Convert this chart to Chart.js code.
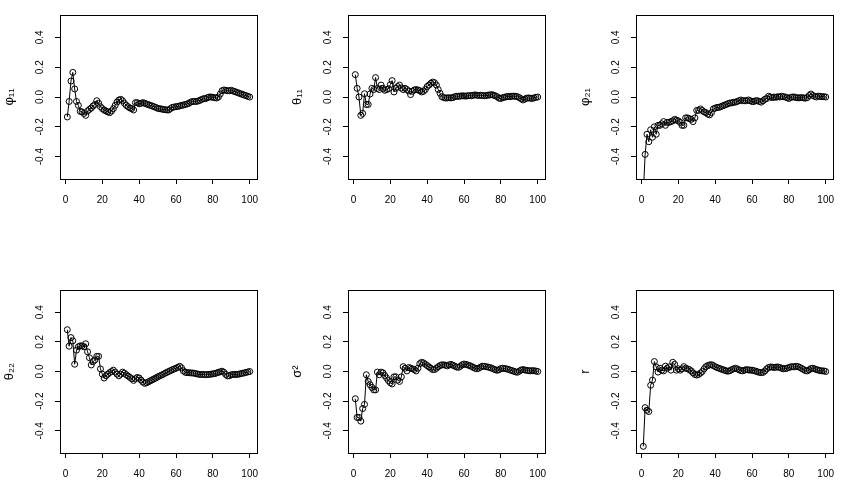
<!DOCTYPE html>
<html>
<head>
<meta charset="utf-8">
<script src="https://cdn.jsdelivr.net/npm/chart.js@4"></script>
<style>
  html, body { margin: 0; padding: 0; background: #fff; }
  #wrap { position: relative; width: 842px; height: 486px; overflow: hidden; }
  .panel { position: absolute; }
</style>
</head>
<body>
<div id="wrap"></div>
<script>
// tick labels
const xTicks = [0, 20, 40, 60, 80, 100];
const yTicks = [-0.4, -0.2, 0, 0.2, 0.4];

// series values, one per iteration 1..100
const phi11 = [
  -0.134, -0.03, 0.107, 0.165, 0.054, -0.03, -0.056, -0.096, -0.10, -0.11,
  -0.123, -0.094, -0.083, -0.074, -0.06, -0.05, -0.025, -0.042, -0.065, -0.078,
  -0.087, -0.094, -0.10, -0.105, -0.094, -0.078, -0.056, -0.034, -0.02, -0.016,
  -0.025, -0.042, -0.056, -0.065, -0.074, -0.078, -0.087, -0.038, -0.038, -0.045,
  -0.042, -0.038, -0.042, -0.047, -0.051, -0.056, -0.06, -0.065, -0.07, -0.076,
  -0.078, -0.08, -0.083, -0.085, -0.087, -0.087, -0.078, -0.07, -0.067, -0.065,
  -0.063, -0.06, -0.056, -0.054, -0.05, -0.047, -0.042, -0.034, -0.03, -0.03,
  -0.03, -0.027, -0.022, -0.016, -0.011, -0.011, -0.005, 0, 0, -0.002,
  -0.005, -0.007, 0, 0.02, 0.042, 0.047, 0.045, 0.042, 0.042, 0.045,
  0.04, 0.036, 0.031, 0.027, 0.022, 0.018, 0.013, 0.009, 0.004, 0
];
const theta11 = [
  0.15, 0.058, 0.0, -0.123, -0.11, 0.022, -0.05, -0.05, 0.02, 0.058,
  0.05, 0.13, 0.058, 0.05, 0.08, 0.058, 0.045, 0.05, 0.055, 0.083,
  0.11, 0.034, 0.058, 0.07, 0.08, 0.06, 0.05, 0.058, 0.05, 0.04,
  0.016, 0.038, 0.047, 0.05, 0.047, 0.042, 0.034, 0.038, 0.05, 0.07,
  0.08, 0.092, 0.1, 0.096, 0.08, 0.05, 0.025, 0.002, -0.004, -0.007,
  -0.006, -0.005, -0.006, -0.004, 0.002, 0.005, 0.004, 0.006, 0.008, 0.007,
  0.006, 0.008, 0.01, 0.008, 0.012, 0.014, 0.012, 0.01, 0.012, 0.01,
  0.008, 0.01, 0.012, 0.014, 0.016, 0.012, 0.008, 0.002, -0.008, -0.01,
  -0.004, -0.002, 0.002, 0.004, 0.002, 0.005, 0.006, 0.004, 0.002, -0.004,
  -0.012, -0.02, -0.014, -0.008, -0.006, -0.008, -0.01, -0.006, -0.002, 0
];
const phi21 = [
  -0.65, -0.385, -0.25, -0.30, -0.22, -0.27, -0.20, -0.25, -0.19, -0.19,
  -0.18, -0.165, -0.19, -0.17, -0.17, -0.165, -0.16, -0.15, -0.155, -0.16,
  -0.17, -0.19, -0.19, -0.14, -0.14, -0.145, -0.15, -0.165, -0.14, -0.09,
  -0.09, -0.08, -0.09, -0.10, -0.105, -0.115, -0.12, -0.105, -0.08, -0.075,
  -0.07, -0.07, -0.065, -0.06, -0.055, -0.05, -0.045, -0.04, -0.04, -0.035,
  -0.035, -0.03, -0.025, -0.02, -0.025, -0.025, -0.025, -0.02, -0.025, -0.03,
  -0.03, -0.025, -0.025, -0.03, -0.035, -0.025, -0.015, -0.01, 0.005, 0.0,
  -0.004, 0.0, -0.002, 0.002, 0.0, 0.005, 0.002, 0.0, -0.005, -0.01,
  -0.002, 0.0, 0.0, -0.004, -0.006, -0.005, -0.004, -0.006, -0.008, -0.004,
  0.01, 0.02, 0.01, 0.004, 0.0, 0.006, 0.004, 0.002, 0.002, 0
];
const theta22 = [
  0.282, 0.171, 0.229, 0.207, 0.049, 0.144, 0.167, 0.173, 0.173, 0.167,
  0.187, 0.133, 0.093, 0.044, 0.067, 0.078, 0.102, 0.102, 0.018, -0.018,
  -0.044, -0.029, -0.018, -0.007, 0, 0.009, -0.004, -0.018, -0.029, -0.018,
  -0.004, -0.011, -0.022, -0.031, -0.04, -0.049, -0.06, -0.049, -0.04, -0.044,
  -0.058, -0.071, -0.08, -0.076, -0.07, -0.063, -0.057, -0.05, -0.044, -0.037,
  -0.031, -0.025, -0.019, -0.012, -0.006, 0.0, 0.006, 0.012, 0.017, 0.022,
  0.028, 0.035, 0.025, 0.005, -0.005, -0.008, -0.008, -0.01, -0.01, -0.012,
  -0.015, -0.018, -0.02, -0.02, -0.02, -0.022, -0.02, -0.02, -0.018, -0.016,
  -0.014, -0.01, -0.006, -0.002, 0.002, -0.005, -0.02, -0.03, -0.028, -0.022,
  -0.02, -0.02, -0.02, -0.018, -0.015, -0.012, -0.01, -0.006, -0.003, 0
];
const sigma2 = [
  -0.184, -0.31, -0.31, -0.335, -0.25, -0.222, -0.022, -0.067, -0.089, -0.107,
  -0.124, -0.124, -0.004, -0.022, -0.004, -0.009, -0.027, -0.044, -0.062, -0.076,
  -0.084, -0.036, -0.036, -0.058, -0.067, -0.036, 0.033, 0.022, 0.004, 0.027,
  0.022, 0.018, 0.013, 0.004, 0.022, 0.053, 0.062, 0.058, 0.049, 0.04,
  0.031, 0.022, 0.013, 0.013, 0.022, 0.032, 0.04, 0.045, 0.045, 0.042,
  0.038, 0.045, 0.048, 0.042, 0.036, 0.03, 0.028, 0.035, 0.045, 0.05,
  0.048, 0.044, 0.04, 0.035, 0.028, 0.022, 0.018, 0.022, 0.03, 0.036,
  0.035, 0.032, 0.03, 0.027, 0.022, 0.017, 0.012, 0.008, 0.012, 0.02,
  0.022, 0.02, 0.018, 0.015, 0.01, 0.006, 0.002, -0.003, -0.005, 0.002,
  0.01, 0.013, 0.01, 0.008, 0.006, 0.004, 0.006, 0.005, 0.003, 0
];
const rVals = [
  -0.505, -0.244, -0.262, -0.27, -0.093, -0.058, 0.067, 0.031, -0.004, 0.022,
  0.009, 0.004, 0.036, 0.022, 0.031, 0.009, 0.062, 0.049, 0.009, 0.018,
  0.009, 0.018, 0.033, 0.022, 0.018, 0.013, 0.004, -0.009, -0.02, -0.024,
  -0.02, -0.011, 0.0, 0.018, 0.033, 0.04, 0.044, 0.046, 0.04, 0.033,
  0.027, 0.022, 0.018, 0.013, 0.009, 0.004, 0.002, 0.006, 0.013, 0.018,
  0.022, 0.018, 0.011, 0.006, 0.004, 0.009, 0.013, 0.011, 0.009, 0.009,
  0.006, 0.002, -0.002, -0.006, -0.008, -0.006, 0.004, 0.018, 0.027, 0.031,
  0.029, 0.027, 0.029, 0.031, 0.027, 0.022, 0.018, 0.02, 0.022, 0.027,
  0.031, 0.033, 0.031, 0.035, 0.033, 0.027, 0.02, 0.013, 0.006, 0.004,
  0.011, 0.02, 0.022, 0.018, 0.013, 0.009, 0.006, 0.004, 0.004, 0
];

const labels = ['φ₁₁', 'θ₁₁', 'φ₂₁', 'θ₂₂', 'σ²', 'r'];
const series = [phi11, theta11, phi21, theta22, sigma2, rVals];

// plot boxes (left, top, width, height) in page pixels
const boxes = [
  [60, 15, 197, 164], [348, 15, 197, 164], [636, 15, 197, 164],
  [60, 290, 197, 163], [348, 290, 197, 163], [636, 290, 197, 163]
];

const AXW = 60, AXH = 30, PAD = 5;
const FONT = "'Liberation Sans', Arial, sans-serif";

const frame = {
  id: 'frame',
  afterDraw(chart) {
    const { ctx, chartArea: a } = chart;
    ctx.save();
    ctx.strokeStyle = '#000';
    ctx.lineWidth = 1;
    ctx.strokeRect(Math.round(a.left) + 0.5, Math.round(a.top) + 0.5,
      Math.round(a.right - a.left), Math.round(a.bottom - a.top));
    ctx.restore();
  }
};

const wrap = document.getElementById('wrap');

series.forEach((vals, k) => {
  const [bl, bt, bw, bh] = boxes[k];
  const div = document.createElement('div');
  div.className = 'panel';
  div.style.left = (bl - AXW) + 'px';
  div.style.top = (bt - PAD) + 'px';
  const cv = document.createElement('canvas');
  cv.width = bw + AXW + PAD;
  cv.height = bh + PAD + AXH;
  div.appendChild(cv);
  wrap.appendChild(div);

  new Chart(cv, {
    type: 'line',
    data: {
      datasets: [{
        data: vals.map((v, i) => ({ x: i + 1, y: v })),
        borderColor: '#000',
        borderWidth: 1,
        tension: 0,
        pointRadius: 3,
        pointBorderWidth: 1,
        pointBorderColor: '#000',
        pointBackgroundColor: 'rgba(0,0,0,0)',
        clip: 0
      }]
    },
    options: {
      responsive: false,
      animation: false,
      devicePixelRatio: 1,
      layout: { padding: { top: PAD, right: PAD, left: 0, bottom: 0 } },
      plugins: { legend: { display: false }, tooltip: { enabled: false } },
      scales: {
        x: {
          type: 'linear',
          min: -2.96, max: 103.96,
          afterBuildTicks: s => { s.ticks = xTicks.map(v => ({ value: v })); },
          afterFit: s => { s.height = AXH; s.paddingLeft = 0; s.paddingRight = 0; },
          border: { display: false },
          grid: { drawOnChartArea: false, drawTicks: true, tickLength: 5, color: '#000', lineWidth: 1 },
          ticks: { color: '#000', font: { family: FONT, size: 10 }, padding: 10, maxRotation: 0, autoSkip: false }
        },
        y: {
          min: -0.55, max: 0.55,
          afterBuildTicks: s => { s.ticks = yTicks.map(v => ({ value: v })); },
          afterFit: s => { s.width = AXW; s.paddingTop = 0; s.paddingBottom = 0; },
          border: { display: false },
          grid: { drawOnChartArea: false, drawTicks: true, tickLength: 5, color: '#000', lineWidth: 1 },
          ticks: {
            color: '#000', font: { family: FONT, size: 10 }, padding: 6,
            minRotation: 90, maxRotation: 90, crossAlign: 'center', autoSkip: false,
            callback: v => Number(v).toFixed(1)
          },
          title: {
            display: true, text: labels[k], color: '#000',
            font: { family: FONT, size: 13 }, padding: { top: 2, bottom: 0 }
          }
        }
      }
    },
    plugins: [frame]
  });
});
</script>
</body>
</html>
